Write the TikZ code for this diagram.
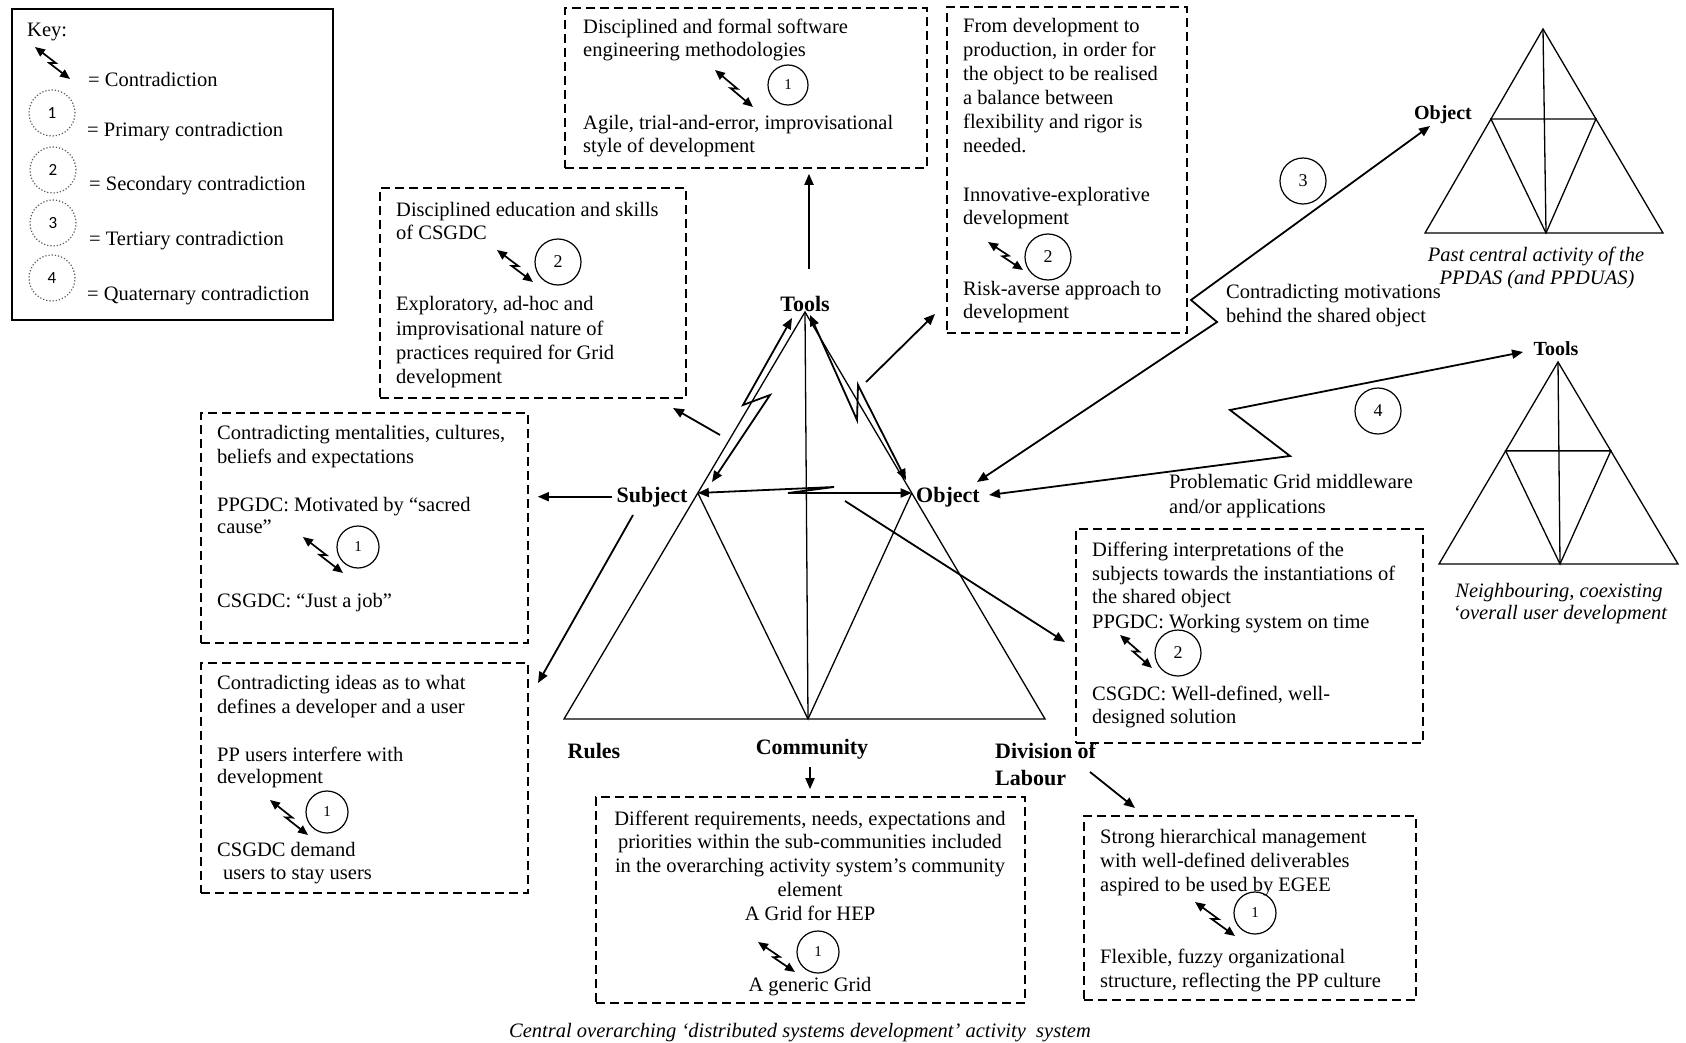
\documentclass[tikz,border=0pt]{standalone}
\usepackage{fontspec}
\setmainfont{Liberation Serif}
\newfontfamily\keysans{Carlito}
\usetikzlibrary{arrows.meta,calc}

% small two-headed "lightning" arrow between two named points
\newcommand\zzpair[3]{%
  \coordinate (#1a) at (#2);
  \coordinate (#1b) at (#3);
  \draw[zzsmall] (#1a) -- ($(#1a)!0.55!(#1b)!2.2pt!90:(#1b)$)
     -- ($(#1a)!0.45!(#1b)!2.2pt!-90:(#1b)$) -- (#1b);}

\begin{document}
\begin{tikzpicture}[x=1pt,y=-1pt,
  tri/.style={line width=1.3pt, line join=miter},
  bigarr/.style={line width=1.8pt, -{Triangle[length=11pt,width=9pt]}},
  bothbig/.style={line width=1.8pt, line join=miter,
     {Triangle[length=11pt,width=9pt]}-{Triangle[length=11pt,width=9pt]}},
  zzsmall/.style={line width=1.7pt, line join=miter,
     {Triangle[length=10pt,width=8.5pt]}-{Triangle[length=10pt,width=8.5pt]}},
  dbox/.style={draw, line width=1.6pt, dash pattern=on 9pt off 5pt, inner sep=0pt},
  cnum/.style={draw, circle, line width=1.2pt, inner sep=0pt,
     font=\fontsize{15}{15}\selectfont},
  cbig/.style={cnum, font=\fontsize{18}{18}\selectfont},
  keycirc/.style={draw=black!65, circle, dotted, line width=1.2pt, minimum size=46pt,
     inner sep=0pt, font=\keysans\fontsize{17}{17}\selectfont},
  txt/.style={inner sep=0pt, anchor=base west, font=\fontsize{20.5}{24}\selectfont},
  ctxt/.style={txt, anchor=base},
  itx/.style={inner sep=0pt, anchor=base, font=\itshape\fontsize{20.5}{24}\selectfont},
  lbl/.style={inner sep=0pt, anchor=base, font=\bfseries\fontsize{22}{26}\selectfont},
  slbl/.style={lbl, font=\bfseries\fontsize{20}{24}\selectfont},
  llbl/.style={lbl, anchor=base west}]

\path[use as bounding box] (0,0) rectangle (1686,1043);

% ---------------- key ----------------
\node[draw, line width=1.8pt, minimum width=321pt, minimum height=311pt, inner sep=0pt]
  (keybox) at (172.5,164.5) {};
\node[txt] (kKey) at (27,37) {Key:};
\zzpair{kz}{35,47}{70,79}
\node[txt] (kC) at (88,87) {= Contradiction};
\node[keycirc] (k1) at (52,113) {1};
\node[keycirc] (k2) at (53,170) {2};
\node[keycirc] (k3) at (53,223) {3};
\node[keycirc] (k4) at (52,278) {4};
\node[txt] (kP) at (87,137) {= Primary contradiction};
\node[txt] (kS) at (89,191) {= Secondary contradiction};
\node[txt] (kT) at (89,245) {= Tertiary contradiction};
\node[txt] (kQ) at (87,300) {= Quaternary contradiction};

% ---------------- central activity system ----------------
\coordinate (mA) at (805,312);
\coordinate (mL) at (564,719);
\coordinate (mR) at (1045,719);
\coordinate (mB) at (808,719);
\coordinate (mS) at ($(mA)!0.4447!(mL)$);
\coordinate (mO) at ($(mA)!0.4447!(mR)$);
\draw[tri] (mL) -- (mA) -- (mR) -- cycle;
\draw[tri] (mA) -- (mB);
\draw[tri] (mS) -- (mB) -- (mO);

\node[lbl] (lTools) at (805,311) {Tools};
\node[lbl] (lSubj) at (652,502) {Subject};
\node[lbl] (lObj) at (948,502) {Object};
\node[lbl] (lRules) at (594,758) {Rules};
\node[lbl] (lComm) at (812,754) {Community};
\node[llbl] (lDiv) at (995,758) {Division of};
\node[llbl] (lLab) at (995,785) {Labour};

% contradictions inside the central triangle
\coordinate (tsT) at (792,318);
\coordinate (tsS) at (712,482);
\draw[bothbig] (tsT) -- (743,405) -- (770,395) -- (tsS);
\coordinate (toT) at (810,315);
\coordinate (toO) at (906,480);
\draw[bothbig] (toT) -- (857,420) -- (858,385) -- (toO);
\draw[bothbig] (mS) -- (834,487) -- (788,493) -- (mO);

% ---------------- boxes ----------------
\node[dbox, minimum width=362pt, minimum height=160pt] (bxTools) at (746,88) {};
\node[txt] (t1) at (583,34) {Disciplined and formal software};
\node[txt] (t2) at (583,57) {engineering methodologies};
\zzpair{tz}{715,70}{753,107}
\node[cnum, minimum size=40pt] (tc) at (788,85) {1};
\node[txt] (t3) at (583,130) {Agile, trial-and-error, improvisational};
\node[txt] (t4) at (583,153) {style of development};

\node[dbox, minimum width=240pt, minimum height=326pt] (bxObj) at (1067,170) {};
\node[txt] (o1) at (963,33) {From development to};
\node[txt] (o2) at (963,57) {production, in order for};
\node[txt] (o3) at (963,81) {the object to be realised};
\node[txt] (o4) at (963,105) {a balance between};
\node[txt] (o5) at (963,129) {flexibility and rigor is};
\node[txt] (o6) at (963,153) {needed.};
\node[txt] (o7) at (963,202) {Innovative-explorative};
\node[txt] (o8) at (963,225) {development};
\zzpair{oz}{988,242}{1023,270}
\node[cbig, minimum size=46pt] (oc) at (1048,257) {2};
\node[txt] (o9) at (963,295) {Risk-averse approach to};
\node[txt] (o10) at (963,318) {development};

\node[dbox, minimum width=306pt, minimum height=210pt] (bxEdu) at (533,293) {};
\node[txt] (e1) at (396,217) {Disciplined education and skills};
\node[txt] (e2) at (396,240) {of CSGDC};
\zzpair{ez}{497,250}{533,282}
\node[cbig, minimum size=46pt] (ec) at (558,262) {2};
\node[txt] (e3) at (396,310) {Exploratory, ad-hoc and};
\node[txt] (e4) at (396,335) {improvisational nature of};
\node[txt] (e5) at (396,359) {practices required for Grid};
\node[txt] (e6) at (396,383) {development};

\node[dbox, minimum width=327pt, minimum height=230pt] (bxSubj) at (364.5,528) {};
\node[txt] (s1) at (217,439) {Contradicting mentalities, cultures,};
\node[txt] (s2) at (217,463) {beliefs and expectations};
\node[txt] (s3) at (217,511) {PPGDC: Motivated by “sacred};
\node[txt] (s4) at (217,533) {cause”};
\zzpair{sz}{303,537}{343,573}
\node[cnum, minimum size=42pt] (sc) at (358,547) {1};
\node[txt] (s5) at (217,607) {CSGDC: “Just a job”};

\node[dbox, minimum width=327pt, minimum height=230pt] (bxRules) at (364.5,778) {};
\node[txt] (r1) at (217,689) {Contradicting ideas as to what};
\node[txt] (r2) at (217,713) {defines a developer and a user};
\node[txt] (r3) at (217,761) {PP users interfere with};
\node[txt] (r4) at (217,783) {development};
\zzpair{rz}{270,800}{308,835}
\node[cnum, minimum size=42pt] (rc) at (327,812) {1};
\node[txt] (r5) at (217,856) {CSGDC demand};
\node[txt] (r6) at (223,879) {users to stay users};

\node[dbox, minimum width=347pt, minimum height=214pt] (bxDiff) at (1249.5,636) {};
\node[txt] (d1) at (1092,556) {Differing interpretations of the};
\node[txt] (d2) at (1092,580) {subjects towards the instantiations of};
\node[txt] (d3) at (1092,603) {the shared object};
\node[txt] (d4) at (1092,628) {PPGDC: Working system on time};
\zzpair{dz}{1120,635}{1152,668}
\node[cbig, minimum size=46pt] (dc) at (1178,653) {2};
\node[txt] (d5) at (1092,700) {CSGDC: Well-defined, well-};
\node[txt] (d6) at (1092,723) {designed solution};

\node[dbox, minimum width=332pt, minimum height=184pt] (bxDiv) at (1250,908) {};
\node[txt] (v1) at (1100,843) {Strong hierarchical management};
\node[txt] (v2) at (1100,867) {with well-defined deliverables};
\node[txt] (v3) at (1100,891) {aspired to be used by EGEE};
\zzpair{vz}{1195,902}{1235,936}
\node[cnum, minimum size=42pt] (vc) at (1255,913) {1};
\node[txt] (v4) at (1100,963) {Flexible, fuzzy organizational};
\node[txt] (v5) at (1100,987) {structure, reflecting the PP culture};

\node[dbox, minimum width=429pt, minimum height=206pt] (bxComm) at (810.5,900) {};
\node[ctxt] (c1) at (810,825) {Different requirements, needs, expectations and};
\node[ctxt] (c2) at (810,848) {priorities within the sub-communities included};
\node[ctxt] (c3) at (810,872) {in the overarching activity system’s community};
\node[ctxt] (c4) at (810,896) {element};
\node[ctxt] (c5) at (810,920) {A Grid for HEP};
\zzpair{cz}{758,942}{795,972}
\node[cnum, minimum size=42pt] (cc) at (818,952) {1};
\node[ctxt] (c6) at (810,991) {A generic Grid};

\node[itx] (capMain) at (800,1037) {Central overarching ‘distributed systems development’ activity\ \ system};

% ---------------- arrows from the nodes to their boxes ----------------
\coordinate (toolsFoot) at (809,269);
\draw[bigarr, shorten >=5pt] (toolsFoot) -- (toolsFoot |- bxTools.south);
\coordinate (objStart) at (866,382);
\coordinate (objEnd) at (935,314);
\draw[bigarr] (objStart) -- (objEnd);
\coordinate (eduStart) at (720,435);
\coordinate (eduEnd) at (673,408);
\draw[bigarr] (eduStart) -- (eduEnd);
\draw[bigarr, shorten <=4pt, shorten >=9pt] (lSubj.west) -- (lSubj.west -| bxSubj.east);
\coordinate (rulStart) at (633,515);
\coordinate (rulEnd) at (538,683);
\draw[bigarr] (rulStart) -- (rulEnd);
\coordinate (difStart) at (845,501);
\coordinate (difEnd) at (1065,642);
\draw[bigarr] (difStart) -- (difEnd);
\coordinate (divStart) at (1090,772);
\coordinate (divEnd) at (1135,808);
\draw[bigarr] (divStart) -- (divEnd);
\coordinate (comFoot) at (810,767);
\draw[bigarr, shorten >=7pt] (comFoot) -- (comFoot |- bxComm.north);

% ---------------- past central activity ----------------
\coordinate (pA) at (1543,29);
\coordinate (pL) at (1425,233);
\coordinate (pR) at (1663,233);
\coordinate (pB) at (1546,233);
\coordinate (pS) at ($(pA)!0.441!(pL)$);
\coordinate (pO) at ($(pA)!0.441!(pR)$);
\draw[tri] (pL) -- (pA) -- (pR) -- cycle;
\draw[tri] (pA) -- (pB);
\draw[tri] (pS) -- (pO) -- (pB) -- cycle;
\node[slbl] (pObj) at (1443,120) {Object};
\node[itx] (pCap1) at (1536,261) {Past central activity of the};
\node[itx] (pCap2) at (1537,284) {PPDAS (and PPDUAS)};

% ---------------- neighbouring activity ----------------
\coordinate (nA) at (1558,362);
\coordinate (nL) at (1439,564);
\coordinate (nR) at (1678,564);
\coordinate (nB) at (1560,564);
\coordinate (nS) at ($(nA)!0.44!(nL)$);
\coordinate (nO) at ($(nA)!0.44!(nR)$);
\draw[tri] (nL) -- (nA) -- (nR) -- cycle;
\draw[tri] (nA) -- (nB);
\draw[tri] (nS) -- (nO) -- (nB) -- cycle;
\node[slbl] (nTools) at (1556,355) {Tools};
\node[itx] (nCap1) at (1559,597) {Neighbouring, coexisting};
\node[itx] (nCap2) at (1560,619) {‘overall user development};

% ---------------- tertiary and quaternary contradictions ----------------
\coordinate (t3O) at (977,482);
\coordinate (t3P) at (1430,126);
\draw[bothbig] (t3O) -- (1217,322) -- (1191,300) -- (t3P);
\node[cbig, minimum size=46pt] (c3n) at (1303,181) {3};
\node[txt] (m1) at (1226,298) {Contradicting motivations};
\node[txt] (m2) at (1226,322) {behind the shared object};

\coordinate (q4O) at (989,495);
\coordinate (q4N) at (1523,352);
\draw[bothbig] (q4O) -- (1290,456) -- (1230,410) -- (q4N);
\node[cbig, minimum size=46pt] (c4n) at (1378,411) {4};
\node[txt] (g1) at (1169,488) {Problematic Grid middleware};
\node[txt] (g2) at (1169,513) {and/or applications};
\end{tikzpicture}
\end{document}
